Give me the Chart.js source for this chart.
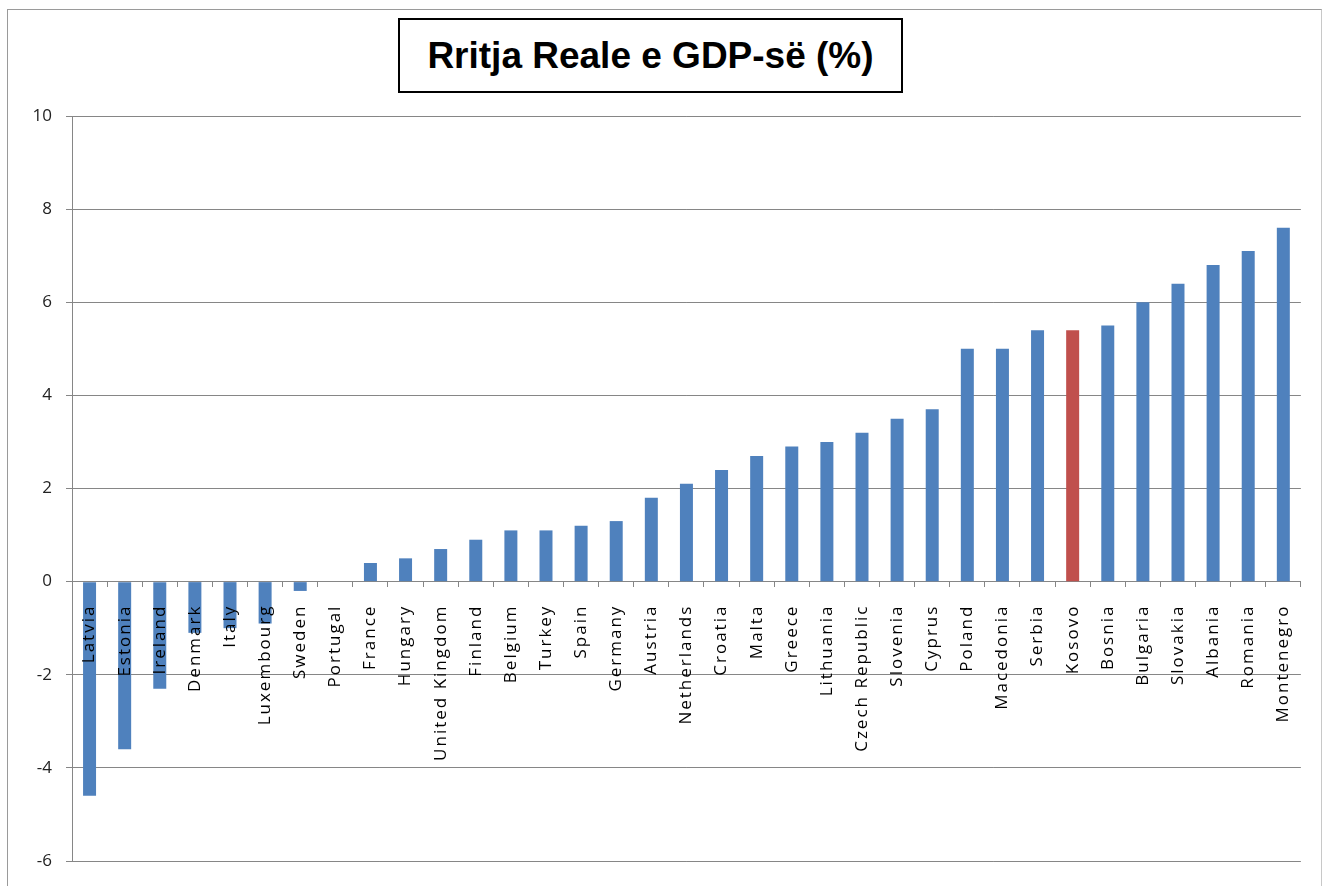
<!DOCTYPE html>
<html>
<head>
<meta charset="utf-8">
<script src="https://cdn.jsdelivr.net/npm/chart.js@4"></script>
<style>
  body { margin: 0; background: #fff; }
  #frame {
    position: absolute; left: 7px; top: 9px; width: 1313px; height: 900px;
    border-left: 1px solid #9a9a9a; border-top: 1px solid #9a9a9a; border-right: 1px solid #c8c8c8;
  }
  #chart { position: absolute; left: 0; top: 0; }
  #title {
    position: absolute; left: 398px; top: 18px; width: 501px; height: 71px;
    border: 2px solid #000; background: #fff;
    font: bold 37px "Liberation Sans", Arial, sans-serif;
    line-height: 71px; text-align: center; color: #000;
  }
</style>
</head>
<body>
<div id="frame"></div>
<canvas id="chart" width="1322" height="886"></canvas>
<div id="title">Rritja Reale e GDP-së (%)</div>

<script>
// vendet dhe rritja reale e GDP-se (%)
const vendet = [
  "Latvia", "Estonia", "Ireland", "Denmark", "Italy", "Luxembourg", "Sweden",
  "Portugal", "France", "Hungary", "United Kingdom", "Finland", "Belgium",
  "Turkey", "Spain", "Germany", "Austria", "Netherlands", "Croatia", "Malta",
  "Greece", "Lithuania", "Czech Republic", "Slovenia", "Cyprus", "Poland",
  "Macedonia", "Serbia", "Kosovo", "Bosnia", "Bulgaria", "Slovakia",
  "Albania", "Romania", "Montenegro"
];
const rritja = [
  -4.6, -3.6, -2.3, -1.1, -1.0, -0.9, -0.2,
  0, 0.4, 0.5, 0.7, 0.9, 1.1,
  1.1, 1.2, 1.3, 1.8, 2.1, 2.4, 2.7,
  2.9, 3.0, 3.2, 3.5, 3.7, 5.0,
  5.0, 5.4, 5.4, 5.5, 6.0, 6.4,
  6.8, 7.1, 7.6
];
const yMin = -6;
const yMax = 10;
const yHapi = 2;

const blu = "#4f81bd";
const kuq = "#c0504d";
let ngjyrat = vendet.map(v => v == "Kosovo" ? kuq : blu);

// hapesira mes shkronjave vetem per emrat e vendeve (vizatohen pas shtyllave)
const letterSpacingPlugin = {
  id: "letterSpacing",
  afterDatasetsDraw(chart) { chart.ctx.letterSpacing = "2px"; },
  afterDraw(chart) { chart.ctx.letterSpacing = "0px"; }
};

const ctx = document.getElementById("chart");

new Chart(ctx, {
  type: "bar",
  data: {
    labels: vendet,
    datasets: [{
      data: rritja,
      backgroundColor: ngjyrat,
      borderWidth: 0,
      barPercentage: 0.37,
      categoryPercentage: 1
    }]
  },
  options: {
    responsive: false,
    animation: false,
    devicePixelRatio: 1,
    layout: {
      padding: { top: 116, right: 19, bottom: 25, left: 0 }
    },
    plugins: {
      legend: { display: false },
      tooltip: { enabled: false },
      title: { display: false }
    },
    scales: {
      x: {
        position: { y: 0 },
        offset: true,
        grid: {
          offset: true,
          drawOnChartArea: false,
          drawTicks: true,
          tickLength: 5,
          color: "#868686"
        },
        border: { display: true, color: "#868686", width: 1 },
        ticks: {
          z: 1,
          autoSkip: false,
          minRotation: 90,
          maxRotation: 90,
          padding: 18,
          color: "#000",
          font: { family: "'Open Sans'", size: 17 }
        }
      },
      y: {
        min: yMin,
        max: yMax,
        afterFit(scale) { scale.width = 72; },
        ticks: {
          stepSize: yHapi,
          padding: 14,
          color: "#222",
          font: { family: "'Open Sans'", size: 17 }
        },
        grid: {
          color: "#868686",
          lineWidth: 1,
          tickLength: 6
        },
        border: { display: true, color: "#868686", width: 1 }
      }
    }
  },
  plugins: [letterSpacingPlugin]
});
</script>
</body>
</html>
